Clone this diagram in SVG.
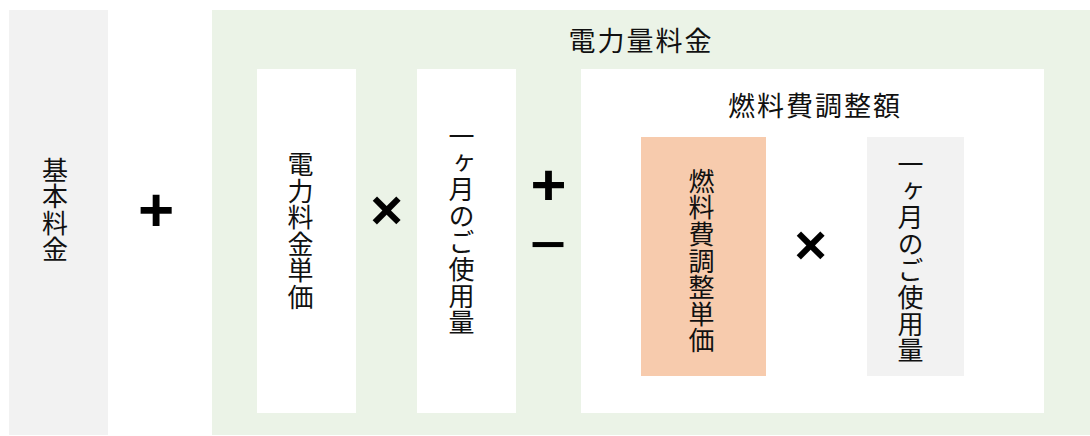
<svg xmlns="http://www.w3.org/2000/svg" width="1090" height="436" viewBox="0 0 1090 436">
<style>
text{font-family:"Noto Sans CJK JP","Noto Sans CJK SC",sans-serif;fill:#111}
.v{writing-mode:vertical-rl;text-orientation:upright;font-size:26px;letter-spacing:0.6px;text-anchor:middle}
.t{font-size:27px;letter-spacing:2px;text-anchor:middle}
.op{font-family:"Liberation Sans","DejaVu Sans",sans-serif;font-weight:bold;text-anchor:middle;fill:#000}
.p{font-size:62px}
.x{font-size:56px}
</style>
<rect width="1090" height="436" fill="#ffffff"/>
<g id="kihon">
<rect x="9" y="10" width="99" height="425" fill="#f2f2f2"/>
<text class="v" x="55" y="210">基本料金</text>
</g>
<g id="ops1"><text class="op p" x="156" y="230.5">+</text></g>
<g id="denryoku">
<rect x="212" y="10" width="878" height="425" fill="#ebf3e7"/>
<text class="t" x="641" y="51">電力量料金</text>
</g>
<g id="tanka">
<rect x="257" y="69" width="99" height="344" fill="#ffffff"/>
<text class="v" x="300.5" y="231">電力料金単価</text>
</g>
<g id="ops2"><text class="op x" x="386.5" y="228.5">×</text></g>
<g id="usage1">
<rect x="417" y="69" width="99" height="344" fill="#ffffff"/>
<text class="v" x="461.5" y="229.5">一ヶ月のご使用量</text>
</g>
<g id="ops3">
<text class="op" x="548.5" y="205" font-size="58" textLength="36" lengthAdjust="spacingAndGlyphs">+</text>
<text class="op" x="548" y="259.5" font-size="46" textLength="36" lengthAdjust="spacingAndGlyphs">−</text>
</g>
<g id="nenryo">
<rect x="581" y="69" width="463" height="344" fill="#ffffff"/>
<text class="t" x="815" y="116">燃料費調整額</text>
</g>
<g id="nenryo-tanka">
<rect x="641" y="137" width="125" height="239" fill="#f7cbad"/>
<text class="v" x="701.5" y="261">燃料費調整単価</text>
</g>
<g id="ops4"><text class="op x" x="810.5" y="263.5">×</text></g>
<g id="usage2">
<rect x="867" y="137" width="97" height="239" fill="#f2f2f2"/>
<text class="v" x="910.5" y="257.6">一ヶ月のご使用量</text>
</g>
<g id="connectors"></g>
</svg>
